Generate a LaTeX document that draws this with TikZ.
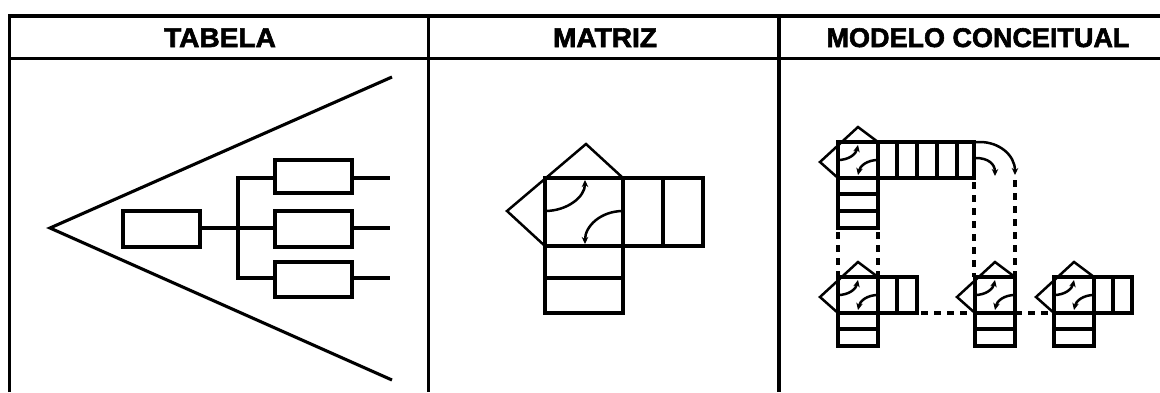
\documentclass[tikz,border=0pt]{standalone}
\usepackage{fontspec}
\setmainfont{Liberation Sans}
\newfontfamily\hdrfont{Liberation Sans Bold}[FakeBold=2.2]
\usepackage{graphicx}
\usetikzlibrary{arrows.meta}
\begin{document}
\begin{tikzpicture}[x=1pt,y=-1pt, line join=miter,
  frame/.style={line width=3.4pt},
  shp/.style={line width=3.1pt},
  thinl/.style={line width=2.5pt},
  arr/.style={line width=2.5pt,-{Stealth[length=7pt,width=6.5pt]}},
  dsh/.style={line width=3.1pt,dash pattern=on 7pt off 6pt},
  hdr/.style={font=\hdrfont\fontsize{27}{27}\selectfont, anchor=base, inner sep=0pt},
  mcunit/.pic={
    \draw[shp] (0,0) rectangle (40,36);
    \draw[thinl] (0,36) -- (-18,20) -- (20,-15) -- (40,0);
    \draw[arr] (0,18) .. controls (11,18) and (18,12) .. (20,3);
    \draw[arr] (40,18) .. controls (29,18) and (22,24) .. (20,33);
  }]
\useasboundingbox (0,0) rectangle (1160,392);
% frame
\draw[frame] (9.5,392) -- (9.5,16);
\draw[frame] (8,16) -- (1160,16);
\draw[frame] (8,58.5) -- (1160,58.5);
\draw[frame] (428.5,16) -- (428.5,392);
\draw[frame] (779,16) -- (779,392);
% headers
\node[hdr] (h1) at (220,47) {\scalebox{1.04}[1]{TABELA}};
\node[hdr] (h2) at (605,47) {\scalebox{1.04}[1]{MATRIZ}};
\node[hdr] (h3) at (978,47) {\scalebox{1.0}[1]{MODELO CONCEITUAL}};
% TABELA
\draw[shp] (392,77) -- (50,228) -- (392,380);
\draw[shp] (123,211) rectangle (200,247);
\draw[shp] (200,228) -- (275,228);
\draw[shp] (275,178) -- (238,178) -- (238,278) -- (275,278);
\draw[shp] (275,160) rectangle (352,193);
\draw[shp] (275,211) rectangle (352,247);
\draw[shp] (275,262) rectangle (352,297);
\draw[shp] (352,178) -- (390,178);
\draw[shp] (352,228) -- (390,228);
\draw[shp] (352,278) -- (390,278);
% MATRIZ
\draw[shp] (545,178) rectangle (703,246);
\draw[shp] (623,178) -- (623,246);
\draw[shp] (663,178) -- (663,246);
\draw[shp] (545,246) rectangle (623,313);
\draw[shp] (545,278) -- (623,278);
\draw[thinl] (545,246) -- (507,211) -- (586,144) -- (623,178);
\draw[arr] (545,211) .. controls (567,211) and (585,197) .. (585,180);
\draw[arr] (623,211) .. controls (601,211) and (585,226) .. (585,244);
% MODELO CONCEITUAL
\pic at (838,142) {mcunit};
\draw[shp] (878,142) rectangle (974,178);
\foreach \x in {897,917,937,957} \draw[shp] (\x,142) -- (\x,178);
\draw[shp] (838,178) rectangle (878,228);
\draw[shp] (838,194) -- (878,194);
\draw[shp] (838,211) -- (878,211);
\draw[arr] (974,142) -- (980,142) .. controls (999,142) and (1015,155) .. (1015,175);
\draw[arr] (976,158) .. controls (988,158) and (995,164) .. (995,176);
% bottom units
\pic at (838,277) {mcunit};
\draw[shp] (878,277) rectangle (917,313);
\draw[shp] (897,277) -- (897,313);
\draw[shp] (838,313) rectangle (878,346);
\draw[shp] (838,329) -- (878,329);
\pic at (975,277) {mcunit};
\draw[shp] (975,313) rectangle (1015,346);
\draw[shp] (975,329) -- (1015,329);
\pic at (1054,277) {mcunit};
\draw[shp] (1094,277) rectangle (1132,313);
\draw[shp] (1113,277) -- (1113,313);
\draw[shp] (1054,313) rectangle (1094,346);
\draw[shp] (1054,329) -- (1094,329);
% dashed links
\draw[dsh] (838,232) -- (838,277);
\draw[dsh] (878,232) -- (878,277);
\draw[dsh] (974,182) -- (974,277);
\draw[dsh] (1015,180) -- (1015,277);
\draw[dsh] (921,313) -- (975,313);
\draw[dsh] (1015,313) -- (1054,313);
\end{tikzpicture}
\end{document}
